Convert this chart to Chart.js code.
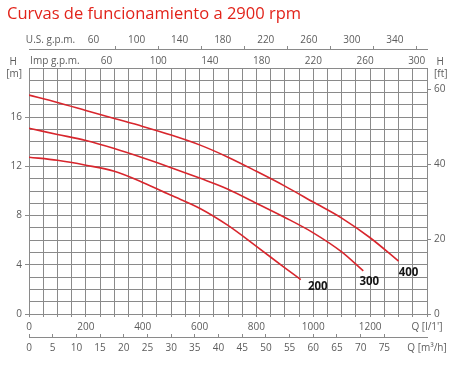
<!DOCTYPE html>
<html>
<head>
<meta charset="utf-8">
<script src="https://cdn.jsdelivr.net/npm/chart.js"></script>
<style>
  html, body { margin: 0; padding: 0; background: #fff; }
</style>
</head>
<body>
<canvas id="curves" width="458" height="369"></canvas>
<script>
// Caudal Q en l/min, altura H en m
const q200 = [0, 100, 200, 300, 400, 500, 600, 700, 800, 900, 956];
const h200 = [12.75, 12.5, 12.1, 11.6, 10.7, 9.65, 8.6, 7.2, 5.5, 3.75, 2.8];

const q300 = [0, 100, 200, 300, 400, 500, 600, 700, 800, 900, 1000, 1100, 1176];
const h300 = [15.1, 14.6, 14.1, 13.45, 12.7, 11.9, 11.05, 10.15, 9.0, 7.85, 6.6, 5.05, 3.5];

const q400 = [0, 100, 200, 300, 400, 500, 600, 700, 800, 900, 1000, 1100, 1200, 1300];
const h400 = [17.8, 17.2, 16.55, 15.9, 15.25, 14.55, 13.75, 12.75, 11.6, 10.4, 9.1, 7.8, 6.2, 4.3];

const curveNames = ['200', '300', '400'];

// rangos y marcas de los ejes
const qMax = 1400;
const hMax = 20;
const qLabels = [0, 200, 400, 600, 800, 1000, 1200];
const hLabels = [0, 4, 8, 12, 16];
const ftLabels = [0, 20, 40, 60];
const usLabels = [60, 100, 140, 180, 220, 260, 300, 340];
const usMinor = [80, 120, 160, 200, 240, 280, 320, 360];
const impLabels = [60, 100, 140, 180, 220, 260, 300];
const m3Labels = [0, 5, 10, 15, 20, 25, 30, 35, 40, 45, 50, 55, 60, 65, 70, 75];

// factores de conversión
const US_GPM = 0.264172;
const IMP_GPM = 0.219969;
const M3H = 0.06;
const FT = 3.28084;

const grey = '#8a8a8a';
const hidden = 'rgba(0,0,0,0)';
const tickFont = { family: "'Open Sans', sans-serif", size: 10 };
const tickColor = '#5c5c5c';
const red = '#d8262d';

const range = (a, b, step) => {
  const out = [];
  for (let v = a; v <= b + 1e-9; v += step) out.push(v);
  return out;
};
const setTicks = values => scale => { scale.ticks = values.map(v => ({ value: v })); };

const toPoints = (qs, hs) => qs.map((q, i) => ({ x: q, y: hs[i] }));

const endLabels = {
  id: 'endLabels',
  afterDatasetsDraw(chart) {
    const ctx = chart.ctx;
    ctx.save();
    ctx.font = "bold 11.5px 'Open Sans', sans-serif";
    ctx.fillStyle = '#151515';
    ctx.textAlign = 'center';
    ctx.textBaseline = 'middle';
    chart.data.datasets.forEach((ds, i) => {
      const pts = chart.getDatasetMeta(i).data;
      const end = pts[pts.length - 1];
      ctx.fillText(ds.label, end.x + ds.labelOffset[0], end.y + ds.labelOffset[1]);
    });
    ctx.restore();
  }
};

const lineStyle = {
  borderColor: red,
  borderWidth: 1.6,
  pointRadius: 0,
  fill: false,
  cubicInterpolationMode: 'monotone'
};

new Chart(document.getElementById('curves'), {
  type: 'line',
  data: {
    datasets: [
      { ...lineStyle, label: curveNames[0], data: toPoints(q200, h200), labelOffset: [17, 7] },
      { ...lineStyle, label: curveNames[1], data: toPoints(q300, h300), labelOffset: [6, 11] },
      { ...lineStyle, label: curveNames[2], data: toPoints(q400, h400), labelOffset: [10, 12] }
    ]
  },
  plugins: [endLabels],
  options: {
    responsive: false,
    devicePixelRatio: 1,
    animation: false,
    layout: { padding: { left: 7, right: 0, top: 0, bottom: 0 } },
    plugins: {
      legend: { display: false },
      tooltip: { enabled: false },
      title: {
        display: true,
        text: 'Curvas de funcionamiento a 2900 rpm',
        align: 'start',
        color: '#e2231a',
        font: { family: "'Open Sans', sans-serif", size: 16.5, weight: 'normal' },
        padding: { top: 4.1, bottom: 3.1 }
      }
    },
    scales: {
      x: {
        type: 'linear',
        position: 'bottom',
        min: 0,
        max: qMax,
        afterBuildTicks: setTicks(range(0, qMax, 50)),
        afterFit: s => { s.height = 23; },
        grid: { color: grey, lineWidth: 1, tickLength: 3, tickColor: grey },
        border: { color: grey },
        ticks: {
          autoSkip: false, maxRotation: 0, minRotation: 0, padding: 4,
          color: tickColor, font: tickFont,
          callback: v => v === qMax ? "Q [l/1']" : (qLabels.includes(v) ? String(v) : '')
        }
      },
      m3: {
        type: 'linear',
        position: 'bottom',
        weight: 1,
        min: 0,
        max: qMax * M3H,
        afterBuildTicks: setTicks([...m3Labels, qMax * M3H]),
        afterFit: s => { s.height = 32; },
        grid: {
          drawOnChartArea: false, tickLength: -3,
          tickColor: c => (c.tick && c.tick.value < 80) ? grey : hidden
        },
        border: { display: true, color: grey },
        ticks: {
          autoSkip: false, maxRotation: 0, minRotation: 0, padding: 8,
          color: tickColor, font: tickFont,
          callback: v => v > 80 ? 'Q [m³/h]' : String(v)
        }
      },
      us: {
        type: 'linear',
        position: 'top',
        weight: 1,
        min: 0,
        max: qMax * US_GPM,
        afterBuildTicks: setTicks([20, ...usLabels, ...usMinor].sort((a, b) => a - b)),
        afterFit: s => { s.height = 22; },
        grid: {
          drawOnChartArea: false, tickLength: 3,
          tickColor: c => (c.tick && usMinor.includes(c.tick.value)) ? grey : hidden
        },
        border: { display: true, color: grey },
        ticks: {
          autoSkip: false, maxRotation: 0, minRotation: 0, padding: 0,
          color: tickColor, font: tickFont,
          callback: v => v === 20 ? 'U.S. g.p.m.' : (usLabels.includes(v) ? String(v) : '')
        }
      },
      imp: {
        type: 'linear',
        position: 'top',
        weight: 0,
        min: 0,
        max: qMax * IMP_GPM,
        afterBuildTicks: setTicks([20, ...impLabels]),
        afterFit: s => { s.height = 19; },
        grid: { display: false, drawTicks: false },
        border: { display: false },
        ticks: {
          autoSkip: false, maxRotation: 0, minRotation: 0, padding: 1,
          color: tickColor, font: tickFont,
          callback: v => v === 20 ? 'Imp g.p.m.' : String(v)
        }
      },
      y: {
        type: 'linear',
        position: 'left',
        min: 0,
        max: hMax,
        afterBuildTicks: setTicks(range(0, hMax, 1)),
        afterFit: s => { s.width = 22; },
        grid: {
          color: grey, lineWidth: 1, tickLength: 4,
          tickColor: c => (c.tick && hLabels.includes(c.tick.value)) ? grey : hidden
        },
        border: { color: grey },
        ticks: {
          autoSkip: false, padding: 3,
          color: tickColor, font: tickFont,
          callback: v => v === hMax ? ['H  ', '[m]'] : (hLabels.includes(v) ? String(v) : '')
        }
      },
      yft: {
        type: 'linear',
        position: 'right',
        min: 0,
        max: hMax * FT,
        afterBuildTicks: setTicks([...ftLabels, hMax * FT]),
        afterFit: s => { s.width = 31; },
        grid: {
          drawOnChartArea: false, tickLength: 4,
          tickColor: c => (c.tick && ftLabels.includes(c.tick.value)) ? grey : hidden
        },
        border: { display: false },
        ticks: {
          autoSkip: false, padding: 3,
          color: tickColor, font: tickFont,
          callback: v => ftLabels.includes(v) ? String(v) : [' H', '[ft]']
        }
      }
    }
  }
});
</script>
</body>
</html>
